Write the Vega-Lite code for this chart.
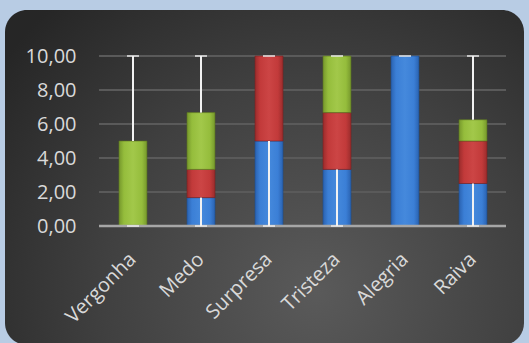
{
  "$schema": "https://vega.github.io/schema/vega-lite/v6.json",
  "width": 519,
  "height": 335,
  "autosize": {"type": "none"},
  "padding": {"left": 5, "top": 10, "right": 5, "bottom": 0},
  "background": "#b8cce4",
  "config": {
    "view": {
      "fill": {"gradient": "radial", "x1": 0.6, "y1": 0.72, "r1": 0, "x2": 0.6, "y2": 0.72, "r2": 0.75,
        "stops": [{"offset": 0, "color": "#5a5a5a"}, {"offset": 0.55, "color": "#404040"}, {"offset": 1, "color": "#262626"}]},
      "stroke": null,
      "cornerRadius": 22
    },
    "axis": {"labelFont": "Open Sans", "labelColor": "#d9d9d9", "domain": false, "ticks": false, "grid": false}
  },
  "datasets": {
    "bars": [
      {"cat": "Vergonha", "serie": "Série 3", "value": 5},
      {"cat": "Medo", "serie": "Série 1", "value": 1.67},
      {"cat": "Medo", "serie": "Série 2", "value": 1.66},
      {"cat": "Medo", "serie": "Série 3", "value": 3.34},
      {"cat": "Surpresa", "serie": "Série 1", "value": 5},
      {"cat": "Surpresa", "serie": "Série 2", "value": 5},
      {"cat": "Tristeza", "serie": "Série 1", "value": 3.33},
      {"cat": "Tristeza", "serie": "Série 2", "value": 3.34},
      {"cat": "Tristeza", "serie": "Série 3", "value": 3.33},
      {"cat": "Alegria", "serie": "Série 1", "value": 10},
      {"cat": "Raiva", "serie": "Série 1", "value": 2.5},
      {"cat": "Raiva", "serie": "Série 2", "value": 2.5},
      {"cat": "Raiva", "serie": "Série 3", "value": 1.25}
    ],
    "errs": [
      {"cat": "Vergonha", "lo": 5, "hi": 10},
      {"cat": "Medo", "lo": 6.67, "hi": 10},
      {"cat": "Medo", "lo": 0, "hi": 1.67},
      {"cat": "Surpresa", "lo": 0, "hi": 5},
      {"cat": "Tristeza", "lo": 0, "hi": 3.33},
      {"cat": "Raiva", "lo": 6.25, "hi": 10},
      {"cat": "Raiva", "lo": 0, "hi": 2.5}
    ],
    "caps": [
      {"cat": "Vergonha", "v": 10}, {"cat": "Vergonha", "v": 0},
      {"cat": "Medo", "v": 10}, {"cat": "Medo", "v": 0},
      {"cat": "Surpresa", "v": 10}, {"cat": "Surpresa", "v": 0},
      {"cat": "Tristeza", "v": 10}, {"cat": "Tristeza", "v": 0},
      {"cat": "Alegria", "v": 10},
      {"cat": "Raiva", "v": 10}, {"cat": "Raiva", "v": 0}
    ],
    "grid": [{"g": 2}, {"g": 4}, {"g": 6}, {"g": 8}, {"g": 10}],
    "base": [{"g": 0}]
  },
  "resolve": {"scale": {"x": "independent"}},
  "layer": [
    {
      "data": {"name": "grid"},
      "mark": {"type": "rule", "color": "#5a5a5a", "strokeWidth": 1.8},
      "encoding": {
        "x": {"datum": 0, "type": "quantitative", "scale": {"domain": [-0.231, 1.0442], "nice": false, "zero": false}, "axis": null},
        "x2": {"datum": 1},
        "y": {
          "field": "g", "type": "quantitative",
          "scale": {"domain": [-7, 12.706], "nice": false, "zero": false},
          "title": null,
          "axis": {"values": [0, 2, 4, 6, 8, 10], "labelExpr": "replace(format(datum.value, '.2f'), '.', ',')", "labelFontSize": 20, "labelPadding": 0, "offset": -71}
        }
      }
    },
    {
      "data": {"name": "bars"},
      "transform": [
        {"stack": "value", "groupby": ["cat"], "sort": [{"field": "serie", "order": "ascending"}], "as": ["y0", "y1"]}
      ],
      "layer": [
        {
          "transform": [{"filter": "datum.serie === 'Série 1'"}],
          "mark": {"type": "bar", "width": 28, "stroke": "#1f4f8f", "strokeWidth": 0.6,
            "color": {"gradient": "linear", "x1": 0, "y1": 0, "x2": 1, "y2": 0,
              "stops": [{"offset": 0, "color": "#2a62b0"}, {"offset": 0.18, "color": "#3b7fd6"}, {"offset": 0.5, "color": "#4589dc"}, {"offset": 0.82, "color": "#3b7fd6"}, {"offset": 1, "color": "#2a62b0"}]}},
          "encoding": {
            "x": {"field": "cat", "type": "nominal"},
            "y": {"field": "y0", "type": "quantitative"},
            "y2": {"field": "y1"}
          }
        },
        {
          "transform": [{"filter": "datum.serie === 'Série 2'"}],
          "mark": {"type": "bar", "width": 28, "stroke": "#7a2222", "strokeWidth": 0.6,
            "color": {"gradient": "linear", "x1": 0, "y1": 0, "x2": 1, "y2": 0,
              "stops": [{"offset": 0, "color": "#9a2c2c"}, {"offset": 0.18, "color": "#c23a3a"}, {"offset": 0.5, "color": "#cc4545"}, {"offset": 0.82, "color": "#c23a3a"}, {"offset": 1, "color": "#9a2c2c"}]}},
          "encoding": {
            "x": {"field": "cat", "type": "nominal"},
            "y": {"field": "y0", "type": "quantitative"},
            "y2": {"field": "y1"}
          }
        },
        {
          "transform": [{"filter": "datum.serie === 'Série 3'"}],
          "mark": {"type": "bar", "width": 28, "stroke": "#5a7420", "strokeWidth": 0.6,
            "color": {"gradient": "linear", "x1": 0, "y1": 0, "x2": 1, "y2": 0,
              "stops": [{"offset": 0, "color": "#76982c"}, {"offset": 0.18, "color": "#95bd3c"}, {"offset": 0.5, "color": "#a2c84a"}, {"offset": 0.82, "color": "#95bd3c"}, {"offset": 1, "color": "#76982c"}]}},
          "encoding": {
            "x": {
              "field": "cat", "type": "nominal", "sort": ["Vergonha", "Medo", "Surpresa", "Tristeza", "Alegria", "Raiva"],
              "scale": {"domain": ["Vergonha", "Medo", "Surpresa", "Tristeza", "Alegria", "Raiva"], "paddingInner": 0.368, "paddingOuter": 1, "align": 0.783},
              "title": null,
              "axis": {"labelAngle": -45, "labelAlign": "right", "labelBaseline": "middle", "labelPadding": 30, "labelFontSize": 20, "offset": -119}
            },
            "y": {"field": "y0", "type": "quantitative"},
            "y2": {"field": "y1"}
          }
        }
      ]
    },
    {
      "data": {"name": "base"},
      "mark": {"type": "rule", "color": "#a6a6a6", "strokeWidth": 2.5},
      "encoding": {
        "x": {"datum": 0, "type": "quantitative", "scale": {"domain": [-0.231, 1.0442], "nice": false, "zero": false}, "axis": null},
        "x2": {"datum": 1},
        "y": {"field": "g", "type": "quantitative"}
      }
    },
    {
      "layer": [
        {
          "data": {"name": "errs"},
          "mark": {"type": "rule", "color": "#f2f2f2", "strokeWidth": 2},
          "encoding": {
            "x": {"field": "cat", "type": "nominal", "scale": {"domain": ["Vergonha", "Medo", "Surpresa", "Tristeza", "Alegria", "Raiva"], "paddingInner": 0.368, "paddingOuter": 1, "align": 0.783}, "axis": null},
            "y": {"field": "lo", "type": "quantitative"},
            "y2": {"field": "hi"}
          }
        },
        {
          "data": {"name": "caps"},
          "mark": {"type": "tick", "color": "#f2f2f2", "size": 12, "thickness": 2},
          "encoding": {
            "x": {"field": "cat", "type": "nominal"},
            "y": {"field": "v", "type": "quantitative"}
          }
        }
      ]
    }
  ]
}
